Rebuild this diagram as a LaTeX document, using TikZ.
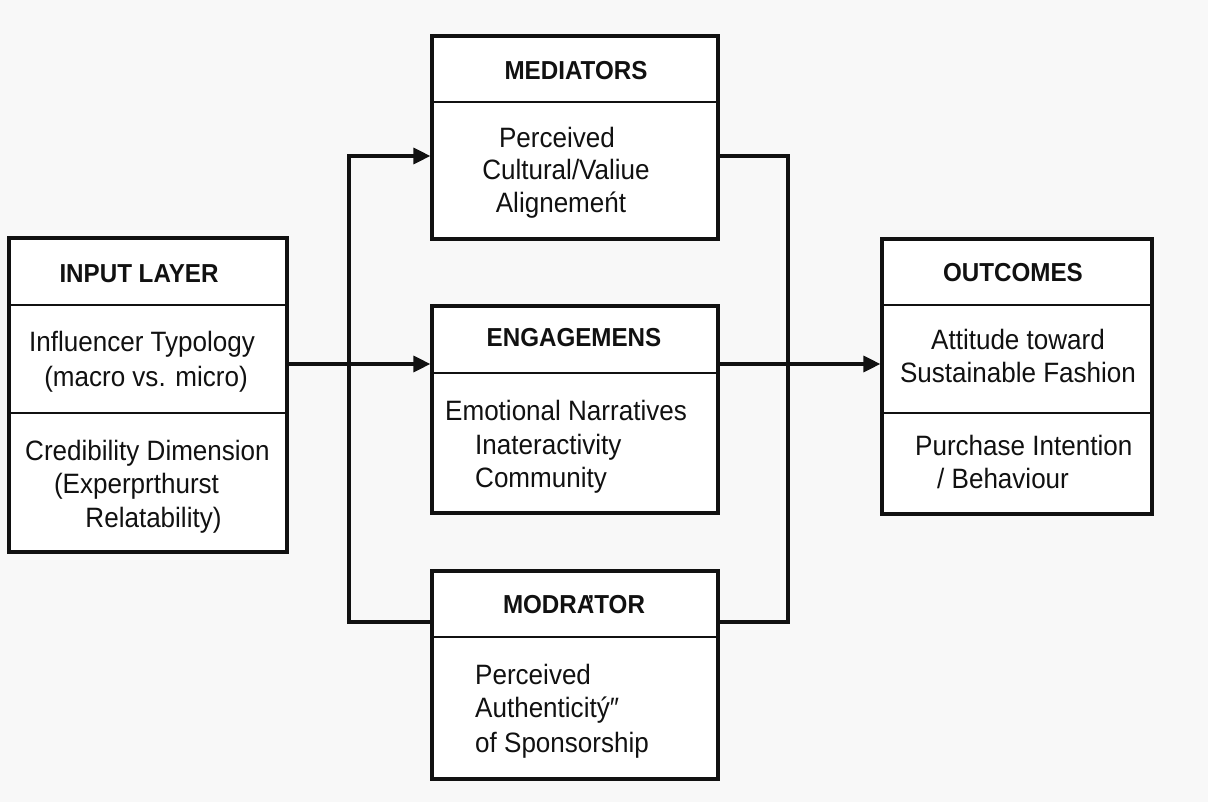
\documentclass[tikz,border=0pt]{standalone}
\usepackage{fontspec}
\setmainfont{Liberation Sans}[FakeStretch=0.93]
\usetikzlibrary{arrows.meta}
\definecolor{ink}{HTML}{111111}
\definecolor{paper}{HTML}{F8F8F8}
\tikzset{
  panel/.style={draw=ink, line width=3.2pt, fill=white, inner sep=0pt},
  divider/.style={draw=ink, line width=2.8pt},
  conn/.style={draw=ink, line width=3.2pt},
  arr/.style={conn, -{Triangle[length=17pt,width=16pt]}},
  head/.style={text=ink, inner sep=0pt, anchor=base, font=\fontsize{26}{30}\selectfont\bfseries},
  body/.style={text=ink, inner sep=0pt, anchor=base, font=\fontsize{28}{33}\selectfont},
  bodyl/.style={body, anchor=base west}
}
\begin{document}
\begin{tikzpicture}[x=1pt,y=1pt]
\fill[paper] (0,0) rectangle (1208,-802);
\useasboundingbox (0,0) rectangle (1208,-802);

% boxes
\node[panel, minimum width=278pt, minimum height=314pt] (input) at (148,-395) {};
\node[panel, minimum width=286pt, minimum height=203pt] (med) at (575,-137.5) {};
\node[panel, minimum width=286pt, minimum height=207pt] (eng) at (575,-409.5) {};
\node[panel, minimum width=286pt, minimum height=208pt] (mod) at (575,-675) {};
\node[panel, minimum width=270pt, minimum height=275pt] (out) at (1017,-376.5) {};

% section dividers
\draw[divider] (input.west |- 0,-305) -- (input.east |- 0,-305);
\draw[divider] (input.west |- 0,-413) -- (input.east |- 0,-413);
\draw[divider] (med.west |- 0,-102) -- (med.east |- 0,-102);
\draw[divider] (eng.west |- 0,-373) -- (eng.east |- 0,-373);
\draw[divider] (mod.west |- 0,-637) -- (mod.east |- 0,-637);
\draw[divider] (out.west |- 0,-305) -- (out.east |- 0,-305);
\draw[divider] (out.west |- 0,-413) -- (out.east |- 0,-413);

% routing levels and bus lines
\coordinate (ya) at (0,-156);
\coordinate (yb) at (0,-364);
\coordinate (yc) at (0,-622);
\coordinate (lbus) at (349,0);
\coordinate (rbus) at (788,0);

% connectors
\draw[arr] (input.east |- yb) -- (eng.west |- yb);
\draw[arr] (mod.west |- yc) -| (lbus |- ya) -- (med.west |- ya);
\draw[conn] (med.east |- ya) -| (rbus |- yc) -- (mod.east |- yc);
\draw[arr] (eng.east |- yb) -- (out.west |- yb);

% input layer
\node[head] (inh) at (139,-283) {INPUT LAYER};
\node[body] (in1) at (142,-352) {Influencer Typology};
\node[body] (in2) at (146,-387) {(macro vs. micro)};
\node[body] (in3) at (147.5,-460) {Credibility Dimension};
\node[body] (in4) at (136.5,-493) {(Experprthurst};
\node[body] (in5) at (153.5,-527) {Relatability)};

% mediators
\node[head] (medh) at (576,-80) {MEDIATORS};
\node[body] (med1) at (557,-148) {Perceived};
\node[body] (med2) at (566,-180) {Cultural/Valiue};
\node[body] (med3) at (561,-213) {Alignemeńt};

% engagement
\node[head] (engh) at (574,-347) {ENGAGEMENS};
\node[bodyl] (eng1) at (445,-420) {Emotional Narratives};
\node[bodyl] (eng2) at (475,-454) {Inateractivity};
\node[bodyl] (eng3) at (475,-487) {Community};

% moderator
\node[head] (modh) at (574,-613) {MODRA\llap{’}TOR};
\node[bodyl] (mod1) at (475,-684) {Perceived};
\node[bodyl] (mod2) at (475,-717) {Authenticitý″};
\node[bodyl] (mod3) at (475,-752) {of Sponsorship};

% outcomes
\node[head] (outh) at (1013,-282) {OUTCOMES};
\node[body] (out1) at (1018,-350) {Attitude toward};
\node[body] (out2) at (1018,-383) {Sustainable Fashion};
\node[bodyl] (out3) at (915,-455) {Purchase Intention};
\node[bodyl] (out4) at (937,-488) {/ Behaviour};
\end{tikzpicture}
\end{document}
